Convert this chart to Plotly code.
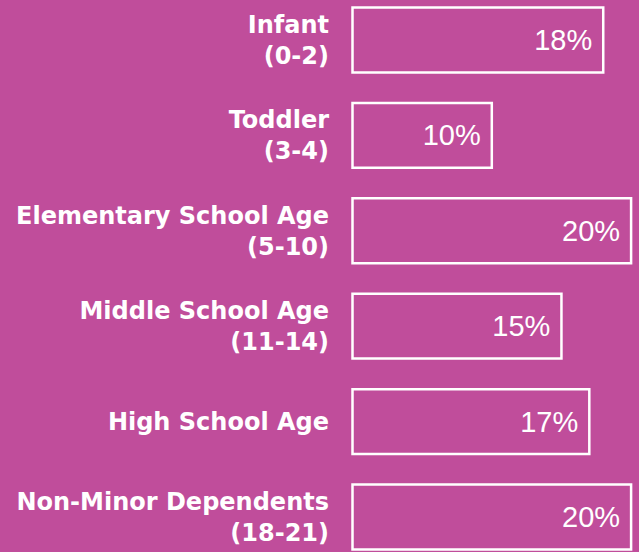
import plotly.graph_objects as go

names = ["Infant", "Toddler", "Elementary School Age", "Middle School Age",
         "High School Age", "Non-Minor Dependents"]
ages = ["(0-2)", "(3-4)", "(5-10)", "(11-14)", "", "(18-21)"]
values = [18, 10, 20, 15, 17, 20]

BG = "#C04D9B"

cats = [f"{n}<br>{a}" if a else n for n, a in zip(names, ages)]
labels = [f"{v}%\u00a0" for v in values]

fig = go.Figure(go.Bar(
    x=values, y=cats, orientation="h",
    marker=dict(color="rgba(0,0,0,0)", line=dict(color="white", width=2.5)),
    width=0.68,
    text=labels, textposition="inside", insidetextanchor="end",
    textfont=dict(family="Liberation Sans, Arial, sans-serif", size=29, color="white"),
    cliponaxis=False,
))

fig.update_layout(
    width=639, height=552,
    paper_bgcolor=BG, plot_bgcolor=BG,
    margin=dict(l=344, r=0, t=0, b=0),
    showlegend=False,
    uniformtext=dict(mode=False),
)
fig.update_xaxes(range=[-8.5 / 13.93, -8.5 / 13.93 + 295 / 13.93],
                 visible=False, showgrid=False, zeroline=False)
fig.update_yaxes(range=[5.367, -0.419], showgrid=False, zeroline=False,
                 showline=False, ticks="", ticklabelstandoff=14,
                 tickfont=dict(family="DejaVu Sans, sans-serif", size=24,
                               color="white", weight="bold"))

fig.write_html("out.html")
